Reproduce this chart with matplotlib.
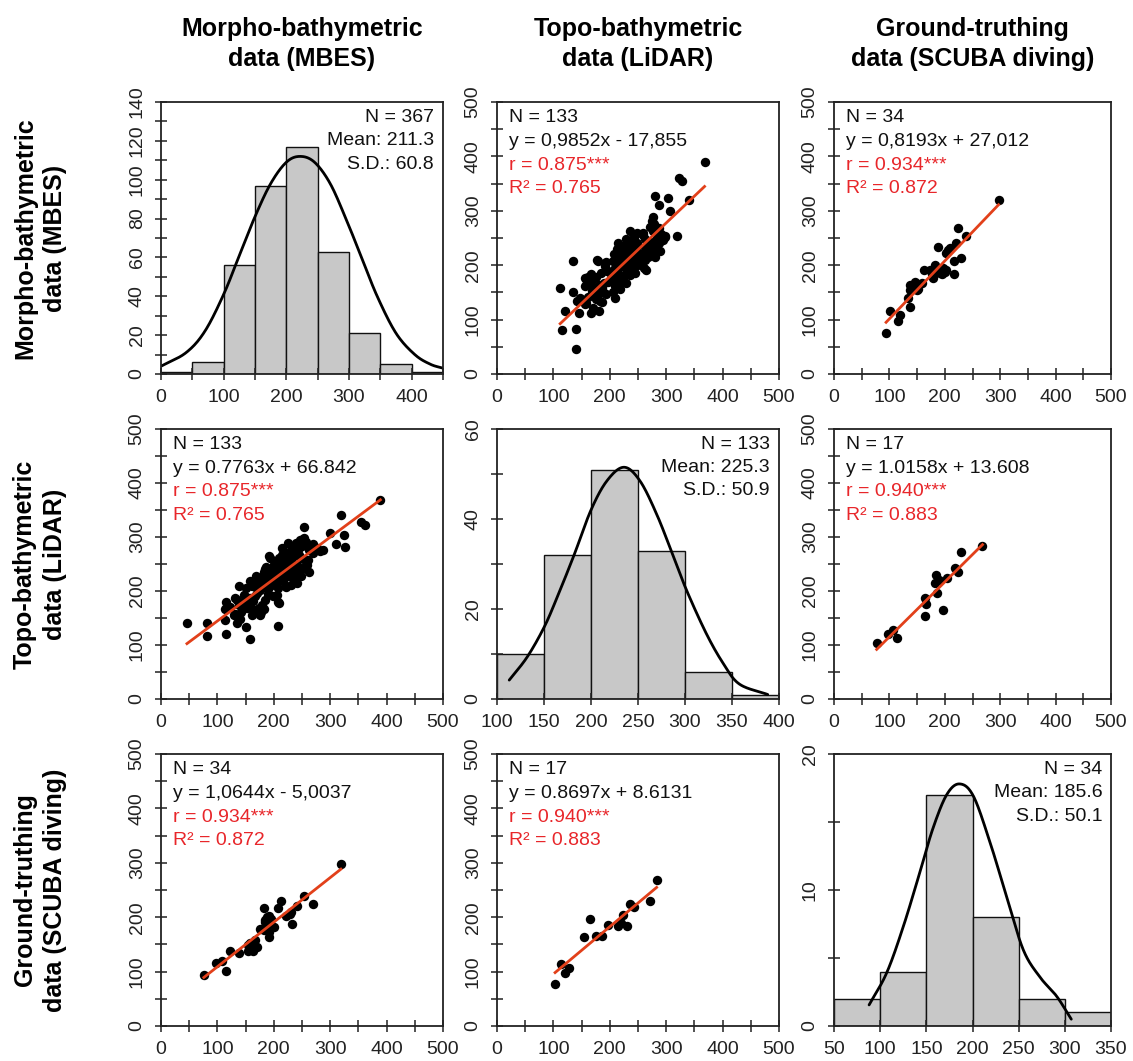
import numpy as np
import matplotlib.pyplot as plt
from matplotlib.ticker import MultipleLocator

plt.rcParams['font.family'] = ['Liberation Sans', 'DejaVu Sans']

# paired depths, MBES vs LiDAR (N = 133)
ml_pairs = [
    (46, 140), (82, 140), (81, 116), (113, 166), (113, 146), (115, 121), (115, 180),
    (139, 209), (134, 183), (131, 158), (150, 134), (158, 112), (175, 158), (178, 162),
    (207, 135), (207, 179), (192, 237), (192, 264), (254, 319), (300, 307), (310, 287),
    (320, 340), (324, 303), (327, 281), (355, 328), (361, 322), (389, 368), (269, 287),
    (270, 271), (282, 275), (288, 276), (276, 279), (260, 258), (241, 214), (236, 218),
    (239, 231), (217, 218), (215, 233), (132, 187), (147, 193), (161, 209), (158, 187),
    (164, 181), (176, 202), (179, 212), (174, 224), (182, 236), (194, 261), (197, 243),
    (203, 236), (209, 243), (215, 267), (220, 273), (215, 280), (226, 289), (232, 280),
    (223, 258), (247, 295), (253, 298), (250, 283), (244, 267), (241, 249), (259, 249),
    (256, 258), (191, 230), (188, 212), (197, 218), (206, 193), (209, 178), (176, 156),
    (173, 168), (179, 175), (152, 168), (141, 162), (138, 175), (129, 156), (161, 156),
    (135, 141), (226, 227), (235, 224), (238, 236), (220, 240), (217, 224), (140, 148),
    (122, 170), (145, 178), (150, 188), (156, 172), (167, 190), (170, 197), (185, 184),
    (190, 195), (198, 191), (183, 167), (165, 165), (150, 205), (157, 218), (165, 214),
    (168, 228), (172, 207), (180, 220), (184, 228), (186, 245), (190, 204), (194, 210),
    (199, 226), (201, 249), (204, 214), (207, 205), (210, 226), (212, 248), (224, 236),
    (228, 246), (230, 212), (232, 238), (245, 241), (248, 228), (252, 243), (262, 236),
    (221, 208), (185, 240), (200, 256), (210, 262), (218, 252), (229, 268), (233, 262),
    (237, 275), (240, 288), (245, 280), (248, 262), (257, 290), (263, 276), (251, 297),
]

# paired depths, MBES vs SCUBA (N = 34)
ms_pairs = [
    (319, 297), (269, 224), (254, 239), (241, 221), (228, 206), (222, 203), (231, 209),
    (233, 188), (213, 229), (207, 217), (195, 197), (188, 200), (185, 191), (191, 203),
    (183, 217), (176, 179), (183, 176), (191, 163), (191, 173), (170, 146), (164, 137),
    (167, 158), (157, 152), (154, 149), (154, 138), (139, 134), (123, 138), (115, 101),
    (108, 120), (97, 116), (76, 94), (200, 182), (184, 195), (188, 186),
]

# paired depths, LiDAR vs SCUBA (N = 17)
ls_pairs = [
    (103, 77), (121, 98), (128, 107), (113, 114), (187, 165), (176, 166), (154, 164),
    (230, 184), (215, 183), (220, 189), (196, 186), (165, 196), (224, 204), (243, 218),
    (235, 224), (272, 230), (283, 268),
]

# histograms on the diagonal
mbes_edges = [0, 50, 100, 150, 200, 250, 300, 350, 400, 450]
mbes_counts = [1, 6, 56, 97, 117, 63, 21, 5, 1]
lidar_edges = [100, 150, 200, 250, 300, 350, 400]
lidar_counts = [10, 32, 51, 33, 6, 1]
scuba_edges = [50, 100, 150, 200, 250, 300, 350]
scuba_counts = [2, 4, 17, 8, 2, 1]

# fitted curves over the histograms
mbes_curve_x = [0, 40, 70, 100, 125, 150, 175, 200, 222, 245, 270, 295, 320, 345, 375, 405, 430, 450]
mbes_curve_y = [4, 11, 22, 41, 61, 81, 98, 109, 112, 109, 98, 80, 60, 40, 21, 10, 5, 3]
lidar_curve_x = [113, 132, 150, 164, 182, 200, 217, 235, 252, 270, 288, 302, 323, 341, 358, 388]
lidar_curve_y = [4.2, 9.3, 15.9, 22.6, 32, 42, 48.5, 51.5, 48.5, 41, 31.5, 24, 14.4, 7.8, 3.3, 1]
scuba_curve_x = [88, 107, 125, 143, 157, 172, 186, 201, 219, 237, 255, 273, 291, 307]
scuba_curve_y = [1.55, 3.9, 7.3, 11.3, 14.5, 17, 17.8, 16.9, 13.5, 9.5, 5.6, 3.6, 2.2, 0.5]

# regression lines drawn in each off-diagonal panel: (slope, intercept)
fit_lines = {
    (0, 1): (0.9852, -17.855),
    (1, 0): (0.7763, 66.842),
    (0, 2): (1.0644, -5.0037),
    (2, 0): (0.8193, 27.012),
    (1, 2): (1.0158, 13.608),
    (2, 1): (0.8697, 8.6131),
}
fit_labels = {
    (0, 1): ['N = 133', 'y = 0,9852x - 17,855', 'r = 0.875***', 'R² = 0.765'],
    (1, 0): ['N = 133', 'y = 0.7763x + 66.842', 'r = 0.875***', 'R² = 0.765'],
    (0, 2): ['N = 34', 'y = 0,8193x + 27,012', 'r = 0.934***', 'R² = 0.872'],
    (2, 0): ['N = 34', 'y = 1,0644x - 5,0037', 'r = 0.934***', 'R² = 0.872'],
    (1, 2): ['N = 17', 'y = 1.0158x + 13.608', 'r = 0.940***', 'R² = 0.883'],
    (2, 1): ['N = 17', 'y = 0.8697x + 8.6131', 'r = 0.940***', 'R² = 0.883'],
}
hist_labels = [
    ['N = 367', 'Mean: 211.3', 'S.D.: 60.8'],
    ['N = 133', 'Mean: 225.3', 'S.D.: 50.9'],
    ['N = 34', 'Mean: 185.6', 'S.D.: 50.1'],
]
titles = ['Morpho-bathymetric\ndata (MBES)', 'Topo-bathymetric\ndata (LiDAR)',
          'Ground-truthing\ndata (SCUBA diving)']

RED = '#e8262a'
LINE_RED = '#e2401a'


def catmull_rom(xs, ys, n=24):
    p = np.column_stack([xs, ys]).astype(float)
    p = np.vstack([2 * p[0] - p[1], p, 2 * p[-1] - p[-2]])
    t = np.linspace(0, 1, n, endpoint=False)[:, None]
    segs = []
    for i in range(1, len(p) - 2):
        p0, p1, p2, p3 = p[i - 1], p[i], p[i + 1], p[i + 2]
        segs.append(0.5 * (2 * p1 + (p2 - p0) * t
                           + (2 * p0 - 5 * p1 + 4 * p2 - p3) * t ** 2
                           + (3 * p1 - p0 - 3 * p2 + p3) * t ** 3))
    segs.append(p[-2][None])
    return np.vstack(segs)


def style_axes(ax, xmaj, xmin, ymaj, ymin):
    ax.xaxis.set_major_locator(MultipleLocator(xmaj))
    ax.xaxis.set_minor_locator(MultipleLocator(xmin))
    ax.yaxis.set_major_locator(MultipleLocator(ymaj))
    ax.yaxis.set_minor_locator(MultipleLocator(ymin))
    ax.tick_params(which='both', direction='inout', length=8, width=1.1,
                   labelsize=14, pad=7, colors='#222222')
    ax.tick_params(axis='y', labelrotation=90)
    for lab in ax.get_yticklabels():
        lab.set_va('center')
    for s in ax.spines.values():
        s.set_linewidth(1.3)
        s.set_color('#222222')


W, H = 1133, 1061
fig = plt.figure(figsize=(W / 100, H / 100), dpi=100)
col_left = [161, 497, 834]
col_w = [282, 282, 277]
row_top = [102, 429, 754]
row_h = [272, 270, 272]

axes = {}
for r in range(3):
    for c in range(3):
        axes[r, c] = fig.add_axes([col_left[c] / W, 1 - (row_top[r] + row_h[r]) / H,
                                   col_w[c] / W, row_h[r] / H])

# diagonal: histograms with fitted curves
hists = [
    (mbes_edges, mbes_counts, mbes_curve_x, mbes_curve_y, (0, 450), (0, 140), 100, 50, 20, 10),
    (lidar_edges, lidar_counts, lidar_curve_x, lidar_curve_y, (100, 400), (0, 60), 50, 50, 20, 10),
    (scuba_edges, scuba_counts, scuba_curve_x, scuba_curve_y, (50, 350), (0, 20), 50, 50, 10, 5),
]
for i, (edges, counts, cx, cy, xl, yl, xmaj, xmin, ymaj, ymin) in enumerate(hists):
    ax = axes[i, i]
    ax.bar(edges[:-1], counts, width=np.diff(edges), align='edge',
           color='#c8c8c8', edgecolor='#111111', linewidth=1.0)
    curve = catmull_rom(cx, cy)
    ax.plot(curve[:, 0], curve[:, 1], color='black', lw=2.0, solid_capstyle='round')
    ax.set_xlim(*xl)
    ax.set_ylim(*yl)
    style_axes(ax, xmaj, xmin, ymaj, ymin)
    for k, txt in enumerate(hist_labels[i]):
        ax.text(0.968, 0.944 - 0.086 * k, txt, transform=ax.transAxes,
                ha='right', va='center', fontsize=14, color='#111111')

# off-diagonal: scatter plots, y = row variable, x = column variable
data = {
    (0, 1): ml_pairs, (1, 0): ml_pairs,
    (0, 2): ms_pairs, (2, 0): ms_pairs,
    (1, 2): ls_pairs, (2, 1): ls_pairs,
}
for (r, c), pairs in data.items():
    ax = axes[r, c]
    arr = np.array(pairs, dtype=float)
    # pairs are stored (lower index variable, higher index variable)
    if r < c:
        xs, ys = arr[:, 1], arr[:, 0]
    else:
        xs, ys = arr[:, 0], arr[:, 1]
    ax.scatter(xs, ys, s=46, color='black', linewidths=0, zorder=2)
    slope, icept = fit_lines[r, c]
    lx = np.array([xs.min(), xs.max()])
    ax.plot(lx, slope * lx + icept, color=LINE_RED, lw=2.0, zorder=3)
    ax.set_xlim(0, 500)
    ax.set_ylim(0, 500)
    style_axes(ax, 100, 50, 100, 50)
    for k, txt in enumerate(fit_labels[r, c]):
        ax.text(0.043, 0.942 - 0.087 * k, txt, transform=ax.transAxes,
                ha='left', va='center', fontsize=14,
                color='#111111' if k < 2 else RED)

# column and row headings
for c, t in enumerate(titles):
    fig.text((col_left[c] + col_w[c] / 2) / W, 1 - 44 / H, t, ha='center', va='center',
             fontsize=18, fontweight='bold', linespacing=1.32)
for r, t in enumerate(titles):
    fig.text(40 / W, 1 - (row_top[r] + row_h[r] / 2) / H, t, ha='center', va='center',
             rotation=90, fontsize=18, fontweight='bold', linespacing=1.32)

fig.savefig('out.png', dpi=100, facecolor='white')
